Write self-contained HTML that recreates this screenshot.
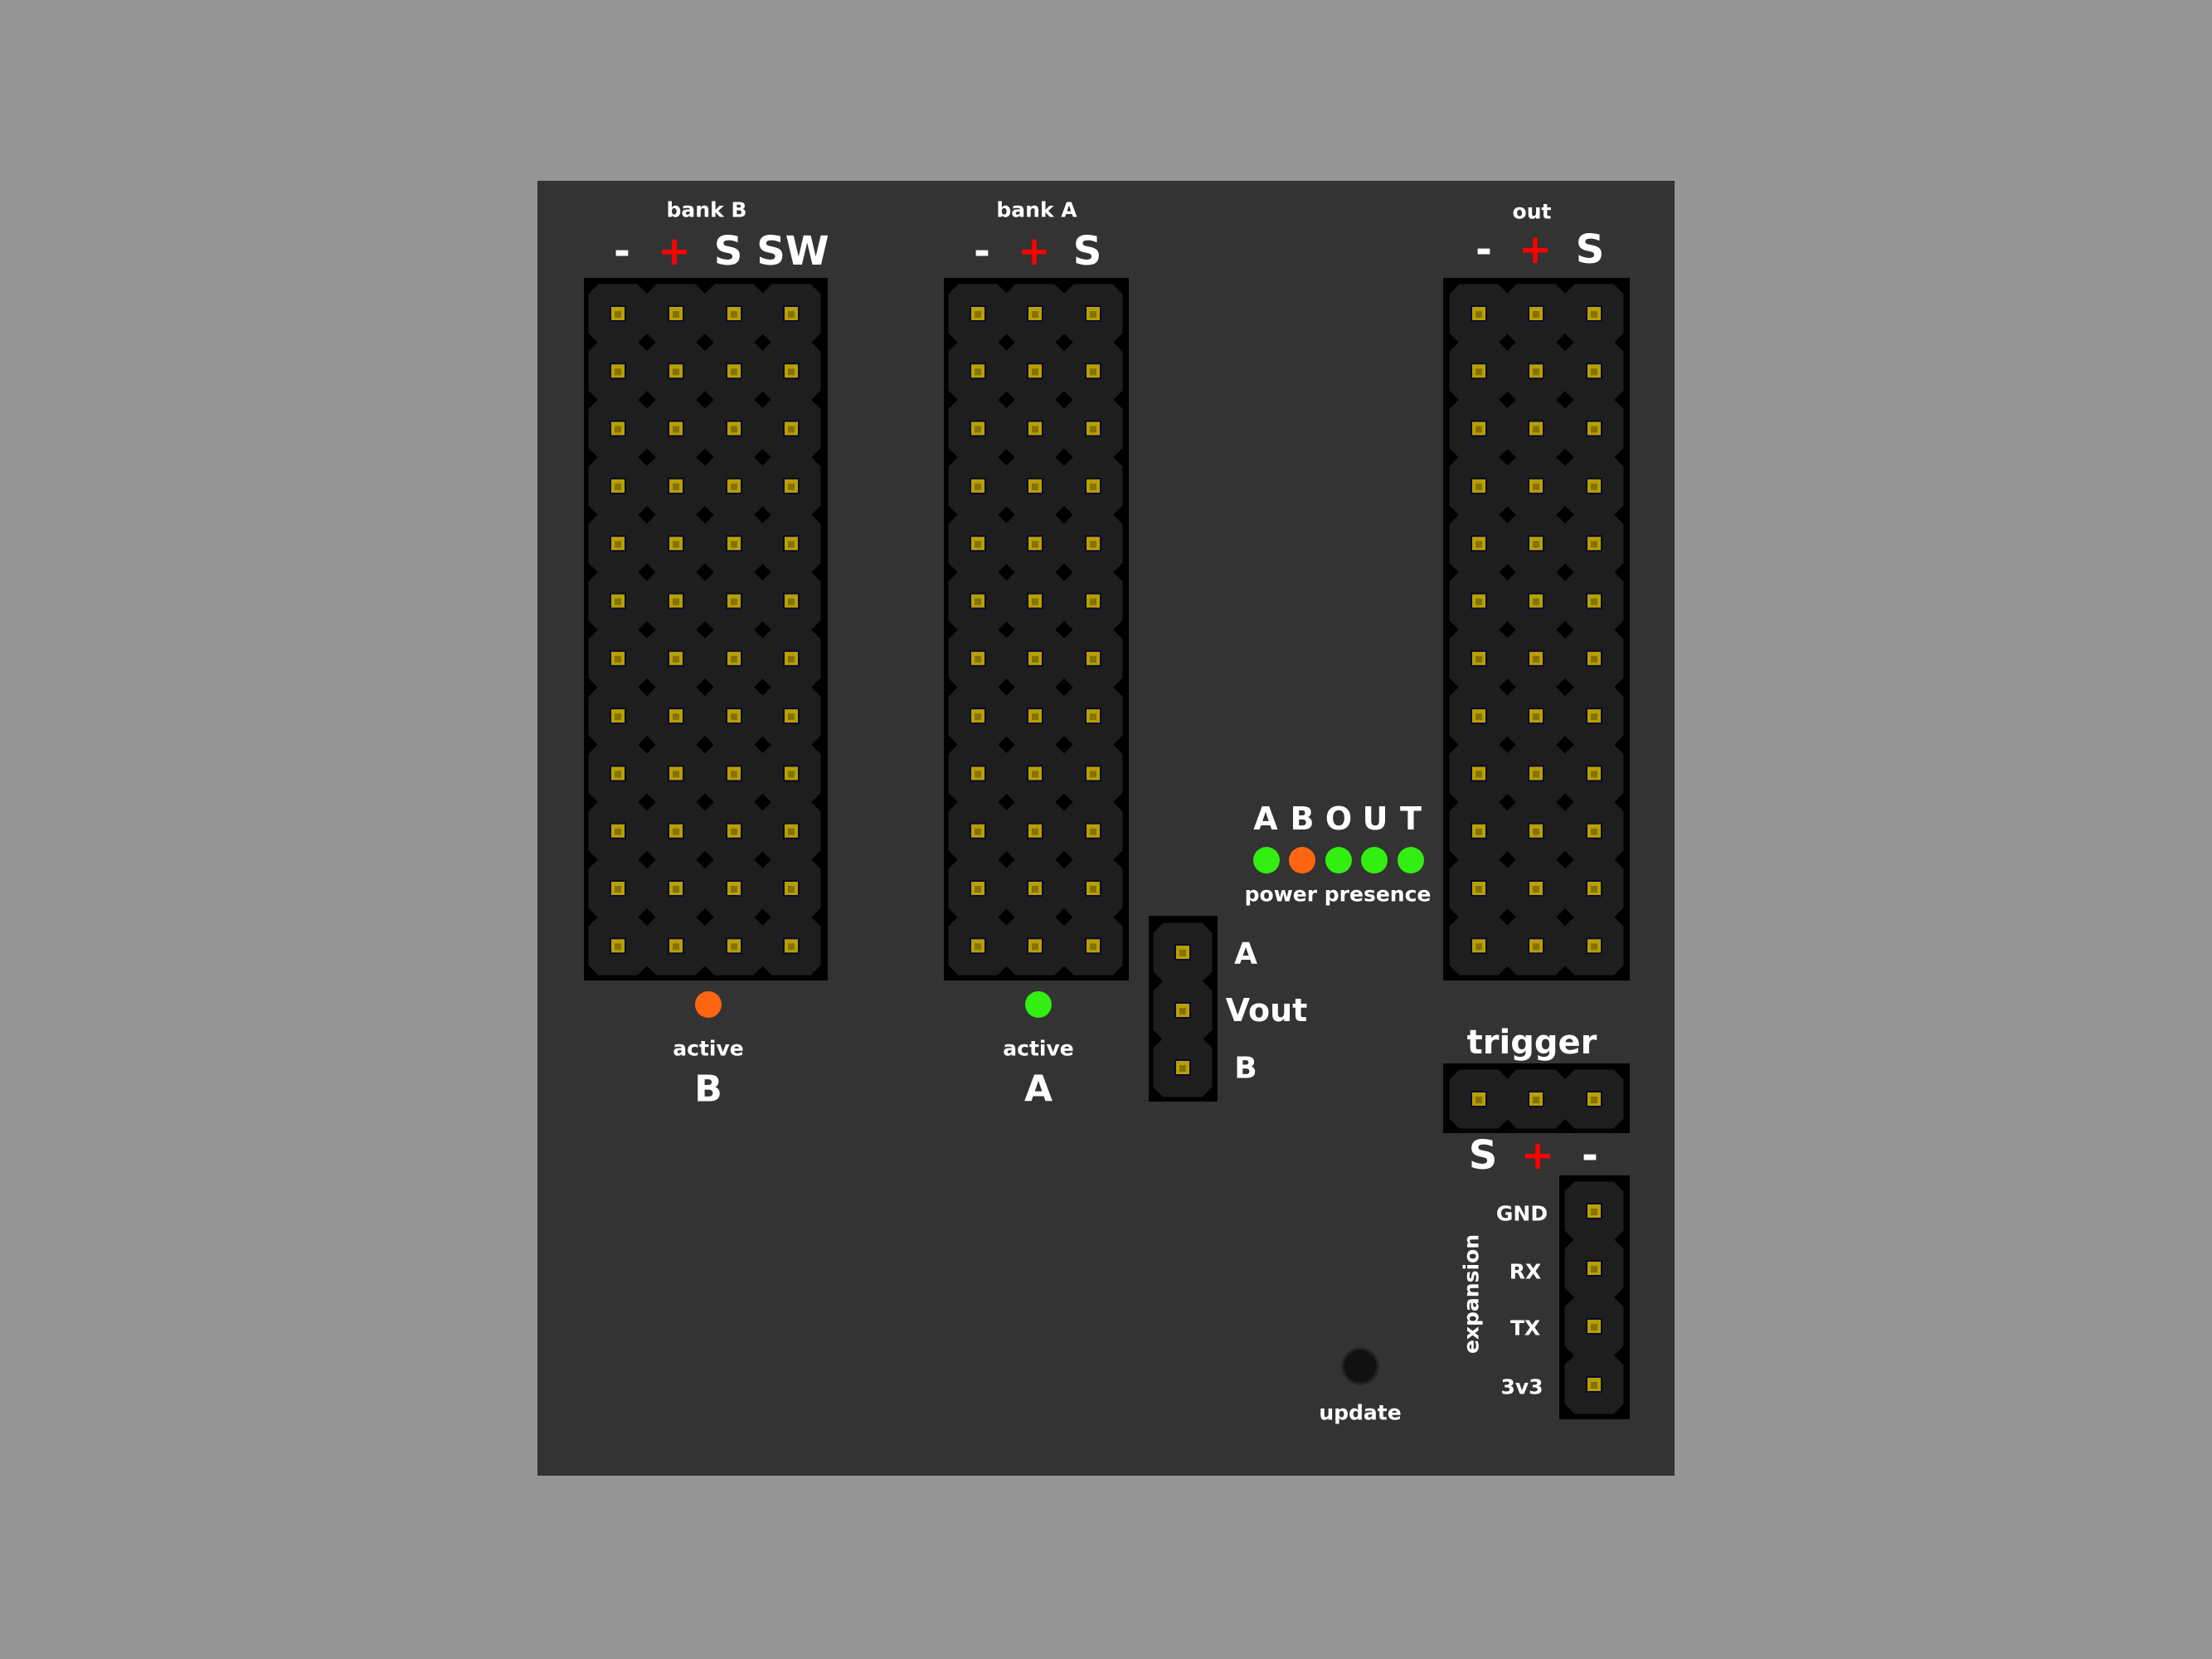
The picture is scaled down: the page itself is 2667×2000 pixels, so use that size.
<!DOCTYPE html>
<html><head><meta charset="utf-8"><style>
html,body{margin:0;padding:0;background:#959595;}
svg{display:block}
text{font-family:"DejaVu Sans","Liberation Sans",sans-serif;font-weight:bold;fill:#fff;text-anchor:middle;dominant-baseline:central}
</style></head><body>
<svg id="s" width="2667" height="2000" viewBox="0 0 2667 2000" xmlns="http://www.w3.org/2000/svg">
<rect x="0" y="0" width="2667" height="2000" fill="#959595"/>
<rect x="648" y="218" width="1371" height="1561" fill="#333333"/>
<g id="hdr"></g>
<text x="852" y="253" font-size="25">bank B</text>
<text x="750" y="303" font-size="48">-</text>
<text x="813" y="303" font-size="48" style="fill:#ff0000">+</text>
<text x="878" y="303" font-size="48">S</text>
<text x="956" y="303" font-size="48">SW</text>
<text x="1250" y="253" font-size="25">bank A</text>
<text x="1184" y="303" font-size="48">-</text>
<text x="1247" y="303" font-size="48" style="fill:#ff0000">+</text>
<text x="1311" y="303" font-size="48">S</text>
<text x="1847" y="255" font-size="25">out</text>
<text x="1789" y="301" font-size="48">-</text>
<text x="1851" y="301" font-size="48" style="fill:#ff0000">+</text>
<text x="1917" y="301" font-size="48">S</text>
<text x="1526" y="987" font-size="38">A</text>
<text x="1570" y="987" font-size="38">B</text>
<text x="1614" y="987" font-size="38">O</text>
<text x="1658" y="987" font-size="38">U</text>
<text x="1701" y="987" font-size="38">T</text>
<circle cx="1527" cy="1037" r="16" fill="#33ee11"/>
<circle cx="1570" cy="1037" r="16" fill="#ff6611"/>
<circle cx="1614" cy="1037" r="16" fill="#33ee11"/>
<circle cx="1657" cy="1037" r="16" fill="#33ee11"/>
<circle cx="1701" cy="1037" r="16" fill="#33ee11"/>
<text x="1613" y="1078" font-size="25">power presence</text>
<text x="1502" y="1150" font-size="36">A</text>
<text x="1527" y="1218" font-size="38">Vout</text>
<text x="1502" y="1288" font-size="36">B</text>
<text x="1847" y="1257" font-size="40">trigger</text>
<text x="1788" y="1393" font-size="48">S</text>
<text x="1854" y="1393" font-size="48" style="fill:#ff0000">+</text>
<text x="1917" y="1393" font-size="48">-</text>
<text x="1835" y="1463" font-size="25">GND</text>
<text x="1839" y="1533" font-size="25">RX</text>
<text x="1839" y="1601" font-size="25">TX</text>
<text x="1835" y="1672" font-size="25">3v3</text>
<text x="1774" y="1560" font-size="25" transform="rotate(-90 1774 1560)">expansion</text>
<circle cx="1640" cy="1647" r="21" fill="#111" stroke="#222" stroke-width="3"/>
<text x="1640" y="1703" font-size="25">update</text>
<circle cx="854" cy="1211" r="16" fill="#ff6611"/>
<text x="854" y="1264" font-size="25">active</text>
<text x="854" y="1313" font-size="44">B</text>
<circle cx="1252" cy="1211" r="16" fill="#33ee11"/>
<text x="1252" y="1264" font-size="25">active</text>
<text x="1252" y="1313" font-size="44">A</text>
</svg>
<script>
var NS="http://www.w3.org/2000/svg",g=document.getElementById("hdr");
function el(t,a){var e=document.createElementNS(NS,t);for(var k in a)e.setAttribute(k,a[k]);g.appendChild(e);return e;}
function header(bx,by,bw,bh,xs,ys){
 el("rect",{x:bx,y:by,width:bw,height:bh,fill:"#000"});
 var h=35.5,c=12;
 xs.forEach(function(x){ys.forEach(function(y){
  var p=[[x-h+c,y-h],[x+h-c,y-h],[x+h,y-h+c],[x+h,y+h-c],[x+h-c,y+h],[x-h+c,y+h],[x-h,y+h-c],[x-h,y-h+c]].map(function(q){return q.join(",")}).join(" ");
  el("polygon",{points:p,fill:"#1e1e1e"});
 });});
 xs.forEach(function(x){ys.forEach(function(y){
  el("rect",{x:x-10,y:y-10,width:20,height:20,fill:"#0a0a2a"});
  el("rect",{x:x-8,y:y-8,width:16,height:16,fill:"#b8a000"});
  el("rect",{x:x-4,y:y-3,width:8,height:8,fill:"#857200"});
 });});
}
var rows=[];for(var i=0;i<12;i++)rows.push(378+i*69.3);
header(704,335,294,847,[745,815,885,954],rows);
header(1138,335,223,847,[1179,1248,1318],rows);
header(1740,335,225,847,[1783,1852,1922],rows);
header(1385,1104,83,224,[1426],[1148,1218,1287]);
header(1740,1282,225,84,[1783,1852,1922],[1325]);
header(1880,1417,85,294,[1922],[1460,1529,1599,1669]);
</script>
</body></html>
